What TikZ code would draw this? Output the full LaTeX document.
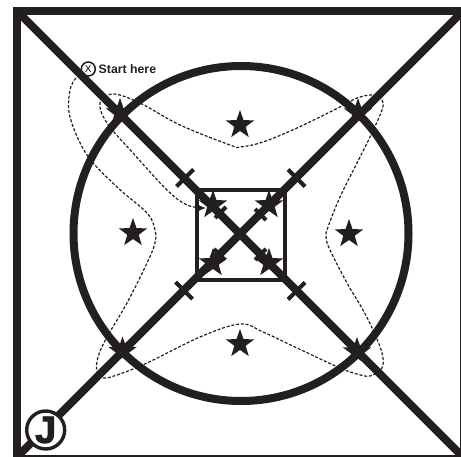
\documentclass[tikz,border=0pt]{standalone}
\usepackage{fontspec}
\setmainfont{Liberation Sans}
\newfontfamily\heavyfont[FakeBold=2.5]{Liberation Sans Bold}
\usetikzlibrary{shapes.geometric,arrows.meta}
\definecolor{ink}{HTML}{231F20}

\begin{document}
\begin{tikzpicture}[x=1pt,y=-1pt,
    mark star/.style={star,star points=5,star point ratio=2.5,fill=ink,inner sep=0pt,minimum size=30pt},
    route/.style={ink,line width=1.2pt,dash pattern=on 3pt off 1.8pt}]
    \useasboundingbox (0,0) rectangle (461,457);
    \clip (0,0) rectangle (461,457);

    \draw[ink,line width=8pt] (16.8,11) rectangle (464,459);
    \draw[ink,line width=8pt] (241,233.5) circle[radius=167.5];
    \draw[ink,line width=4pt] (197,190.5) rectangle (285,280);

    \coordinate (tl) at (16,10);
    \coordinate (tr) at (464,10);
    \coordinate (bl) at (16,458);
    \coordinate (br) at (464,458);
    \draw[ink,line width=8pt] (tl) -- (br);
    \draw[ink,line width=8pt] (bl) -- (tr);

    % ticks across the diagonals
    \draw[ink,line width=4pt] (176.5,186.5) --++ (17,-17);
    \draw[ink,line width=4pt] (288,169.5) --++ (17,17);
    \draw[ink,line width=4pt] (175.5,282) --++ (17,17);
    \draw[ink,line width=4pt] (288,299.5) --++ (17,-17);
    \draw[ink,line width=4pt] (215,218) --++ (11,-11);
    \draw[ink,line width=4pt] (255,209) --++ (11,11);
    \draw[ink,line width=4pt] (214,249) --++ (11,11);
    \draw[ink,line width=4pt] (255,260) --++ (11,-11);

    \node[mark star] (outernw) at (120,113){};
    \node[mark star] (outerne) at (358,113){};
    \node[mark star] (outersw) at (122.5,351.5){};
    \node[mark star] (outerse) at (357,352){};
    \node[mark star] (top) at (240,125){};
    \node[mark star] (bottom) at (240,344){};
    \node[mark star] (left) at (133,233){};
    \node[mark star] (right) at (349,234){};
    \node[mark star] (innernw) at (213,205){};
    \node[mark star] (innerne) at (269,205){};
    \node[mark star] (innersw) at (213,263){};
    \node[mark star] (innerse) at (269,263){};

    \draw[route,-{Latex[length=7pt,width=6pt]}] plot[smooth,tension=0.6] coordinates {
        (76,78) (70,90) (70,117) (87,155) (117,187) (147,213) (155,230) (155,243)
        (147,263) (127,303) (107,337) (98,357) (97,372) (103,378) (117,375) (147,363)
        (200,337) (240,324) (263,332) (297,348) (340,368) (357,374) (370,376) (382,368)
        (382,353) (373,330) (363,310) (347,283) (330,250) (326,237) (328,227) (340,197)
        (357,163) (370,137) (382,110) (382,100) (373,95) (357,98) (340,107) (297,128)
        (263,142) (240,147) (230,145) (180,125) (140,103) (113,94) (100,103) (107,123)
        (133,153) (167,190) (187,205) (206,208)};

    \node[draw=ink,line width=1.5pt,circle,inner sep=0pt,minimum size=14pt,font=\fontsize{10}{10}\selectfont] (startmark) at (88.3,69){X};
    \node[anchor=west,inner sep=0pt,text=ink,font=\fontsize{12.3}{12}\selectfont\bfseries] (starttext) at (98.5,69.5){Start here};

    \node[draw=ink,fill=white,line width=3.4pt,circle,inner sep=0pt,minimum size=38pt,text=ink,font=\fontsize{38}{38}\selectfont\heavyfont] (jmark) at (45.7,430){J};
\end{tikzpicture}
\end{document}
